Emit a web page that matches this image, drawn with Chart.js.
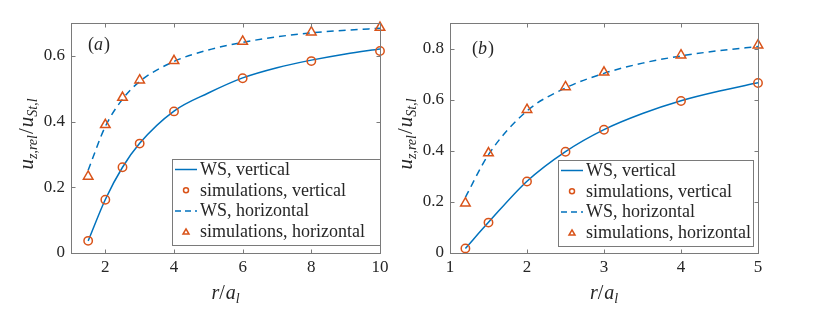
<!DOCTYPE html>
<html>
<head>
<meta charset="utf-8">
<script src="https://cdn.jsdelivr.net/npm/chart.js@4/dist/chart.umd.min.js"></script>
<style>
  body { margin: 0; background: #fff; }
  .wrap { position: absolute; top: 0; }
</style>
</head>
<body>
<div class="wrap" style="left:0px"><canvas id="chartA" width="415" height="312"></canvas></div>
<div class="wrap" style="left:390px"><canvas id="chartB" width="440" height="312"></canvas></div>
<script>
// panel (a)
var simXA = [1.5, 2, 2.5, 3, 4, 6, 8, 10];
var simVertA = [0.037, 0.162, 0.261, 0.333, 0.431, 0.532, 0.584, 0.615];
var simHorA = [0.233, 0.390, 0.473, 0.526, 0.585, 0.644, 0.672, 0.686];
var wsXA = [1.5, 2, 2.5, 3, 4, 5, 6, 7, 8, 9, 10];
var wsVertA = [0.037, 0.163, 0.261, 0.334, 0.432, 0.487, 0.533, 0.564, 0.587, 0.606, 0.621];
var wsHorA = [0.252, 0.385, 0.468, 0.522, 0.583, 0.618, 0.641, 0.658, 0.670, 0.678, 0.684];
var xTicksA = [2, 4, 6, 8, 10];
var yTicksA = [0, 0.2, 0.4, 0.6];

// panel (b)
var simXB = [1.2, 1.5, 2, 2.5, 3, 4, 5];
var simVertB = [0.018, 0.119, 0.280, 0.396, 0.482, 0.595, 0.665];
var simHorB = [0.195, 0.391, 0.561, 0.650, 0.707, 0.774, 0.813];
var wsXB = [1.2, 1.5, 2, 2.5, 3, 3.5, 4, 4.5, 5];
var wsVertB = [0.018, 0.120, 0.281, 0.397, 0.483, 0.546, 0.596, 0.634, 0.666];
var wsHorB = [0.218, 0.385, 0.556, 0.646, 0.703, 0.743, 0.771, 0.792, 0.808];
var xTicksB = [1, 2, 3, 4, 5];
var yTicksB = [0, 0.2, 0.4, 0.6, 0.8];

var legendLabels = ["WS, vertical", "simulations, vertical", "WS, horizontal", "simulations, horizontal"];

var BLUE = "#0072BD";
var ORANGE = "#D95319";
var AXIS = "#7a7a7a";
var TEXT = "#262626";
var SERIF = "'Liberation Serif', 'DejaVu Serif', serif";

function pts(xs, ys) {
    return xs.map(function (x, i) { return { x: x, y: ys[i] }; });
}

// draws a run of text pieces (italic / subscript) starting at x
function drawRich(ctx, parts, x, y, align) {
    var total = 0;
    parts.forEach(function (p) {
        ctx.font = (p.italic ? "italic " : "") + p.size + "px " + SERIF;
        p.w = ctx.measureText(p.t).width;
        total += p.w + (p.gap || 0);
    });
    var cx = align == "center" ? x - total / 2 : x;
    ctx.textBaseline = "alphabetic";
    ctx.textAlign = "left";
    parts.forEach(function (p) {
        ctx.font = (p.italic ? "italic " : "") + p.size + "px " + SERIF;
        ctx.fillText(p.t, cx, y + (p.dy || 0));
        cx += p.w + (p.gap || 0);
    });
}

var framePlugin = {
    id: "frame",
    afterDraw: function (chart) {
        var ctx = chart.ctx;
        var a = chart.chartArea;
        var cfg = chart.options.plugins.frame;
        ctx.save();
        ctx.strokeStyle = AXIS;
        ctx.lineWidth = 1;
        var l = Math.round(a.left) + 0.5, r = Math.round(a.right) + 0.5;
        var t = Math.round(a.top) + 0.5, b = Math.round(a.bottom) + 0.5;
        ctx.strokeRect(l, t, r - l, b - t);
        ctx.beginPath();
        chart.scales.x.ticks.forEach(function (tk) {
            var px = Math.round(chart.scales.x.getPixelForValue(tk.value)) + 0.5;
            ctx.moveTo(px, b); ctx.lineTo(px, b - 4);
            ctx.moveTo(px, t); ctx.lineTo(px, t + 4);
        });
        chart.scales.y.ticks.forEach(function (tk) {
            var py = Math.round(chart.scales.y.getPixelForValue(tk.value)) + 0.5;
            ctx.moveTo(l, py); ctx.lineTo(l + 4, py);
            ctx.moveTo(r, py); ctx.lineTo(r - 4, py);
        });
        ctx.stroke();

        // axis titles
        ctx.fillStyle = TEXT;
        drawRich(ctx, [
            { t: "r", size: 20, italic: true },
            { t: "/", size: 20, gap: 1 },
            { t: "a", size: 20, italic: true },
            { t: "l", size: 14, italic: true, dy: 4 }
        ], (a.left + a.right) / 2, 299, "center");

        ctx.save();
        ctx.translate(a.left - 43, (a.top + a.bottom) / 2 - 4);
        ctx.rotate(-Math.PI / 2);
        drawRich(ctx, [
            { t: "u", size: 21, italic: true },
            { t: "z,rel", size: 14, italic: true, dy: 4, gap: 1 },
            { t: "/", size: 21, gap: 1 },
            { t: "u", size: 21, italic: true },
            { t: "St,l", size: 14, italic: true, dy: 4 }
        ], 0, 5, "center");
        ctx.restore();

        // panel label
        drawRich(ctx, [
            { t: "(", size: 18 },
            { t: cfg.label, size: 18, italic: true, gap: 1 },
            { t: ")", size: 18 }
        ], a.left + cfg.labelDx, a.top + cfg.labelDy, "left");

        // legend box
        var bx = a.right - cfg.legRight - cfg.legWidth, by = a.top + cfg.legTop;
        var bw = cfg.legWidth, bh = 86;
        ctx.fillStyle = "#fff";
        ctx.fillRect(bx, by, bw, bh);
        ctx.strokeStyle = AXIS;
        ctx.strokeRect(Math.round(bx) + 0.5, Math.round(by) + 0.5, bw, bh);
        legendLabels.forEach(function (lab, i) {
            var cy = by + 10.5 + i * 20.8;
            var sx = bx + 3, ex = bx + 25;
            ctx.lineWidth = 1.5;
            if (i == 0 || i == 2) {
                ctx.strokeStyle = BLUE;
                ctx.setLineDash(i == 2 ? [6, 4] : []);
                ctx.beginPath();
                ctx.moveTo(sx, cy); ctx.lineTo(ex, cy);
                ctx.stroke();
                ctx.setLineDash([]);
            } else {
                ctx.strokeStyle = ORANGE;
                ctx.beginPath();
                var mx = (sx + ex) / 2;
                if (i == 1) {
                    ctx.arc(mx, cy, 2.5, 0, Math.PI * 2);
                } else {
                    ctx.moveTo(mx, cy - 3); ctx.lineTo(mx + 3, cy + 2.2); ctx.lineTo(mx - 3, cy + 2.2); ctx.closePath();
                }
                ctx.stroke();
            }
            ctx.fillStyle = TEXT;
            ctx.font = "18px " + SERIF;
            ctx.textBaseline = "middle";
            ctx.textAlign = "left";
            ctx.fillText(lab, ex + 3, cy + 0.5);
        });
        ctx.restore();
    }
};

function makeChart(id, o) {
    return new Chart(document.getElementById(id), {
        type: "line",
        data: {
            datasets: [
                { label: legendLabels[1], data: pts(o.simX, o.simVert), showLine: false, clip: false, pointStyle: "circle", pointRadius: 4.2, pointBorderWidth: 1.5, borderColor: ORANGE, backgroundColor: "rgba(0,0,0,0)" },
                { label: legendLabels[3], data: pts(o.simX, o.simHor), showLine: false, clip: false, pointStyle: "triangle", pointRadius: 5.5, pointBorderWidth: 1.5, borderColor: ORANGE, backgroundColor: "rgba(0,0,0,0)" },
                { label: legendLabels[0], data: pts(o.wsX, o.wsVert), borderColor: BLUE, borderWidth: 1.5, pointRadius: 0, cubicInterpolationMode: "monotone", fill: false },
                { label: legendLabels[2], data: pts(o.wsX, o.wsHor), borderColor: BLUE, borderWidth: 1.5, borderDash: [7, 5], pointRadius: 0, cubicInterpolationMode: "monotone", fill: false }
            ]
        },
        options: {
            responsive: false,
            animation: false,
            devicePixelRatio: 1,
            layout: { padding: { top: 23, right: o.padRight, left: 0, bottom: 0 } },
            plugins: {
                legend: { display: false },
                tooltip: { enabled: false },
                frame: o.frame
            },
            scales: {
                x: {
                    type: "linear",
                    min: o.xMin, max: o.xMax,
                    grid: { display: false, drawTicks: false },
                    border: { display: false },
                    ticks: { color: TEXT, font: { family: SERIF, size: 17 }, padding: 4, maxRotation: 0 },
                    afterBuildTicks: function (s) { s.ticks = o.xTicks.map(function (v) { return { value: v }; }); },
                    afterFit: function (s) { s.height = 59; }
                },
                y: {
                    type: "linear",
                    min: 0, max: o.yMax,
                    grid: { display: false, drawTicks: false },
                    border: { display: false },
                    ticks: { color: TEXT, font: { family: SERIF, size: 17 }, padding: 6, callback: function (v) { return String(v); } },
                    afterBuildTicks: function (s) { s.ticks = o.yTicks.map(function (v) { return { value: v }; }); },
                    afterFit: function (s) { s.width = o.yWidth; }
                }
            }
        },
        plugins: [framePlugin]
    });
}

makeChart("chartA", {
    simX: simXA, simVert: simVertA, simHor: simHorA, wsX: wsXA, wsVert: wsVertA, wsHor: wsHorA,
    xTicks: xTicksA, yTicks: yTicksA, xMin: 1, xMax: 10, yMax: 0.7,
    yWidth: 71, padRight: 35,
    frame: { label: "a", labelDx: 17, labelDy: 27, legRight: 0, legWidth: 208, legTop: 136 }
});

makeChart("chartB", {
    simX: simXB, simVert: simVertB, simHor: simHorB, wsX: wsXB, wsVert: wsVertB, wsHor: wsHorB,
    xTicks: xTicksB, yTicks: yTicksB, xMin: 1, xMax: 5, yMax: 0.9,
    yWidth: 60, padRight: 72,
    frame: { label: "b", labelDx: 22, labelDy: 31, legRight: 5, legWidth: 195, legTop: 137 }
});
</script>
</body>
</html>
